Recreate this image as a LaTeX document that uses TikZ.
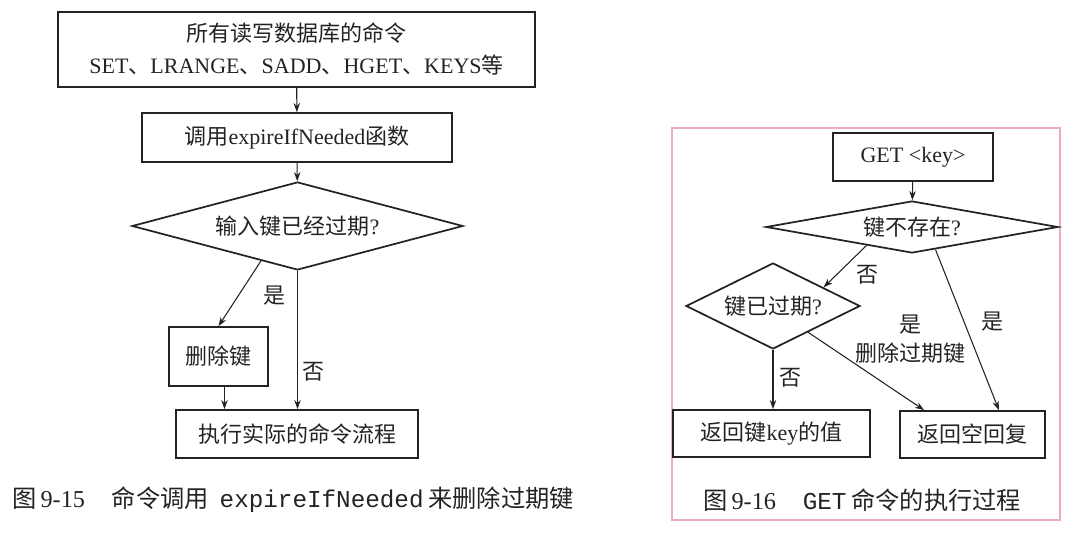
\documentclass[tikz,border=0pt]{standalone}
\usepackage{fontspec}
\setmainfont{Liberation Serif}
\setmonofont{Liberation Mono}
\newfontfamily\cjk{Noto Sans CJK SC}
\newcommand{\zh}[1]{{\cjk #1}}
\usetikzlibrary{arrows.meta,positioning,shapes.geometric,calc}
\definecolor{redisFramePink}{RGB}{236,172,192}
\definecolor{redisInk}{RGB}{35,35,35}

\begin{document}
\begin{tikzpicture}[
  x=0.75pt, y=-0.75pt,
  cmdbox/.style={
    draw=redisInk,
    line width=1.3pt,
    inner sep=0pt,
    align=center,
    text=redisInk,
    font=\fontsize{16.5}{24}\selectfont
  },
  test/.style={
    draw=redisInk,
    diamond,
    line width=1.3pt,
    inner sep=0pt,
    text=redisInk,
    font=\fontsize{16.5}{24}\selectfont
  },
  lbl/.style={text=redisInk,font=\fontsize{16.5}{24}\selectfont},
  caption/.style={text=redisInk,inner sep=0pt,font=\fontsize{18.2}{24}\selectfont},
  arrow/.style={-{Stealth[length=2.4mm,width=1.7mm]},line width=0.8pt,redisInk}
]
  \useasboundingbox (0,0) rectangle (1068,534);

  % figure 9-15
  \node[cmdbox,minimum width=357.75pt,minimum height=56.25pt] (all) at (296.5,49.5)
    {\zh{所有读写数据库的命令}\\SET\zh{、}LRANGE\zh{、}SADD\zh{、}HGET\zh{、}KEYS\zh{等}};
  \node[cmdbox,minimum width=232.5pt,minimum height=36.75pt] (call) at (297,137.5)
    {\zh{调用}expireIfNeeded\zh{函数}};
  \node[test,aspect=3.8,minimum width=248.25pt,minimum height=66pt] (chk) at (297.5,226)
    {\zh{输入键已经过期}?};
  \node[cmdbox,minimum width=74.25pt,minimum height=44.25pt] (del) at (218.5,356.5)
    {\zh{删除键}};
  \node[cmdbox,minimum width=181.5pt,minimum height=36pt] (run) at (297,434)
    {\zh{执行实际的命令流程}};
  \draw[arrow] (all) -- (call);
  \draw[arrow] (call) -- (chk);
  \draw[arrow] ($(chk.south)!0.22!(chk.west)$) -- (del.north);
  \draw[arrow] (chk.south) -- (chk.south |- run.north);
  \draw[arrow] ([xshift=4.5pt]del.south) -- ([xshift=4.5pt]del.south |- run.north);
  \node[lbl] (yesA) at (274,296) {\zh{是}};
  \node[lbl] (noA) at (313,372) {\zh{否}};
  \node[caption,anchor=west] (capA) at (12,500)
    {\zh{图}\,9-15\hspace{1.1em}\zh{命令调用}\hspace{0.45em}\texttt{expireIfNeeded}\hspace{0.2em}\zh{来删除过期键}};

  % figure 9-16
  \draw[redisFramePink,line width=1.6pt] (672,128) rectangle (1060,520);
  \node[cmdbox,minimum width=120pt,minimum height=36pt] (get) at (913,157)
    {GET <key>};
  \node[test,aspect=5.6,minimum width=219pt,minimum height=39pt] (exist) at (912,227)
    {\zh{键不存在}?};
  \node[test,aspect=2,minimum width=130.5pt,minimum height=64.5pt] (exp) at (773,306)
    {\zh{键已过期}?};
  \node[cmdbox,minimum width=147.75pt,minimum height=35.25pt] (val) at (771.5,433.5)
    {\zh{返回键}key\zh{的值}};
  \node[cmdbox,minimum width=108.75pt,minimum height=35.25pt] (empty) at (972.5,434.5)
    {\zh{返回空回复}};
  \draw[arrow] (get) -- (exist);
  \draw[arrow] ($(exist.south)!0.31!(exist.west)$) -- ($(exp.north)!0.575!(exp.east)$);
  \draw[arrow] (exp.south) -- (exp.south |- val.north);
  \draw[arrow] ($(exp.south)!0.4!(exp.east)$) -- ($(empty.north west)!0.17!(empty.north east)$);
  \draw[arrow] ($(exist.south)!0.16!(exist.east)$) -- ($(empty.north west)!0.68!(empty.north east)$);
  \node[lbl] (noB) at (867,275) {\zh{否}};
  \node[lbl] (noC) at (790,378) {\zh{否}};
  \node[lbl] (yesB) at (910,325) {\zh{是}};
  \node[lbl] (delB) at (910,353) {\zh{删除过期键}};
  \node[lbl] (yesC) at (992,322) {\zh{是}};
  \node[caption,anchor=west] (capB) at (703,500)
    {\zh{图}\,9-16\hspace{1.1em}\texttt{GET}\hspace{0.2em}\zh{命令的执行过程}};
\end{tikzpicture}
\end{document}
